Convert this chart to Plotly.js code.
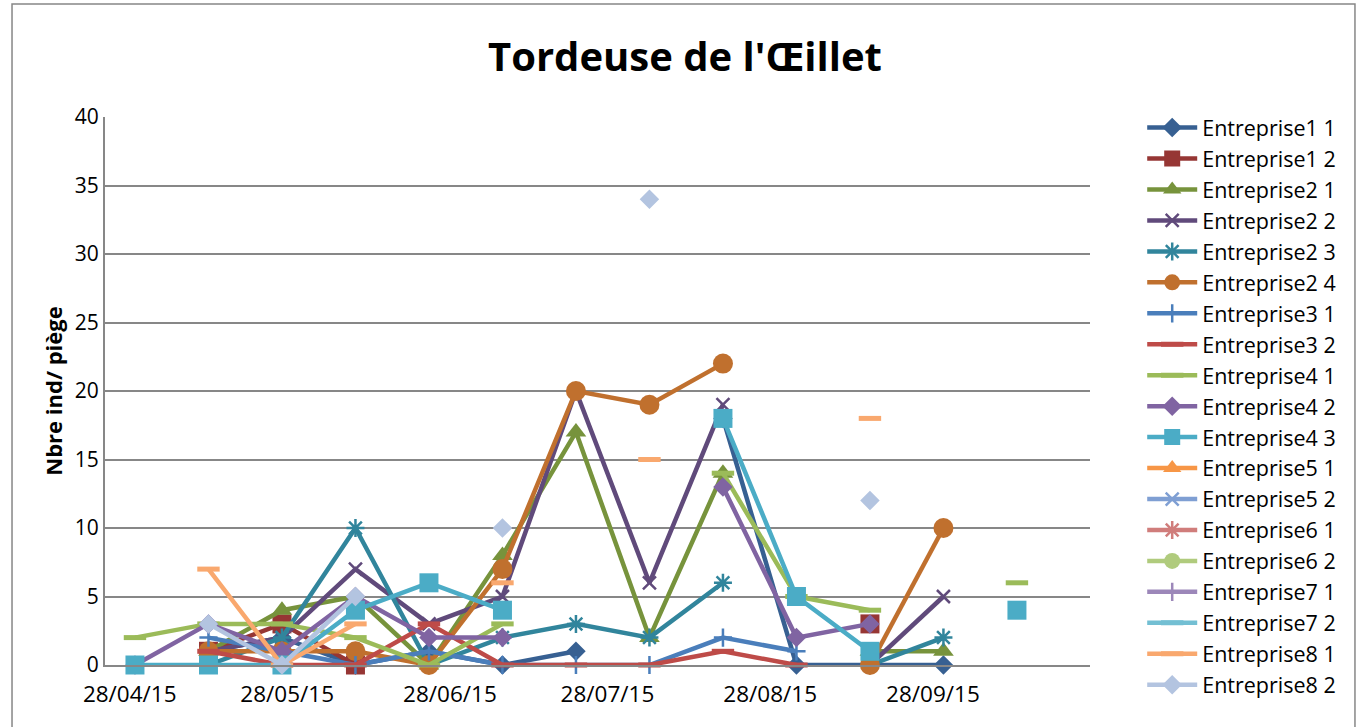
<!DOCTYPE html>
<html>
<head>
<meta charset="utf-8">
<script src="https://cdn.plot.ly/plotly-3.0.1.min.js"></script>
<style>
  html, body { margin: 0; padding: 0; background: #ffffff; }
  #chart { width: 1368px; height: 727px; }
</style>
</head>
<body>
<div id="chart"></div>
<script>
// ---- data ----
const n = null;
const dates = ['2015-04-29','2015-05-13','2015-05-27','2015-06-10','2015-06-24','2015-07-08',
               '2015-07-22','2015-08-05','2015-08-19','2015-09-02','2015-09-16','2015-09-30','2015-10-14'];
const tickDates = ['2015-04-28','2015-05-28','2015-06-28','2015-07-28','2015-08-28','2015-09-28'];

const seriesNames = ['Entreprise1 1','Entreprise1 2','Entreprise2 1','Entreprise2 2','Entreprise2 3','Entreprise2 4',
  'Entreprise3 1','Entreprise3 2','Entreprise4 1','Entreprise4 2','Entreprise4 3','Entreprise5 1','Entreprise5 2',
  'Entreprise6 1','Entreprise6 2','Entreprise7 1','Entreprise7 2','Entreprise8 1','Entreprise8 2'];

const e1_1 = [n, 1, 2, 0, 1, 0, 1, n, 18, 0, 0, 0, n];
const e1_2 = [n, 1, 3, 0, n, n, n, n, n, n, 3, n, n];
const e2_1 = [n, 1, 4, 5, 0, 8, 17, 2, 14, n, 1, 1, n];
const e2_2 = [n, 1, 2, 7, 3, 5, 20, 6, 19, n, 0, 5, n];
const e2_3 = [n, 0, 2, 10, 0, 2, 3, 2, 6, n, 0, 2, n];
const e2_4 = [n, 1, 1, 1, 0, 7, 20, 19, 22, n, 0, 10, n];
const e3_1 = [n, 2, 1, 0, 1, 0, 0, 0, 2, 1, n, n, n];
const e3_2 = [n, 1, 0, 0, 3, 0, 0, 0, 1, 0, n, n, n];
const e4_1 = [2, 3, 3, 2, 0, 3, n, n, 14, 5, 4, n, 6];
const e4_2 = [0, 3, 1, 5, 2, 2, n, n, 13, 2, 3, n, n];
const e4_3 = [0, 0, 0, 4, 6, 4, n, n, 18, 5, 1, n, 4];
const e5_1 = [n, n, n, n, n, n, n, n, n, n, n, n, n];
const e5_2 = [n, n, n, n, n, n, n, n, n, n, n, n, n];
const e6_1 = [n, n, n, n, n, n, n, n, n, n, n, n, n];
const e6_2 = [n, n, n, n, n, n, n, n, n, n, n, n, n];
const e7_1 = [n, n, n, n, n, n, n, n, n, n, n, n, n];
const e7_2 = [n, n, n, n, n, n, n, n, n, n, n, n, n];
const e8_1 = [n, 7, 0, 3, n, 6, n, 15, n, n, 18, n, n];
const e8_2 = [n, 3, 0, 5, n, 10, n, 34, n, n, 12, n, n];

const values = [e1_1, e1_2, e2_1, e2_2, e2_3, e2_4, e3_1, e3_2, e4_1, e4_2, e4_3,
                e5_1, e5_2, e6_1, e6_2, e7_1, e7_2, e8_1, e8_2];

// ---- styles ----
const colors = ['#376092','#963634','#77933C','#604A7B','#31859C','#C0702E',
                '#4A7EBB','#BE4B48','#9BBB59','#8064A2','#4BACC6','#F79646',
                '#7F9FD3','#D07D7B','#B0CB7D','#9C87B9','#73BFD3','#F9A86E','#B3C4E0'];
const markerCycle = [
  {symbol:'diamond', size:15, lw:0},
  {symbol:'square', size:19, lw:0},
  {symbol:'triangle-up', size:18, lw:0},
  {symbol:'x-thin-open', size:13, lw:2.5},
  {symbol:'asterisk-open', size:15, lw:2.5},
  {symbol:'circle', size:20, lw:0},
  {symbol:'cross-thin-open', size:13, lw:2.5},
  {symbol:'line-ew-open', size:16, lw:5},
  {symbol:'line-ew-open', size:16, lw:5}
];

const traces = seriesNames.map((name, i) => {
  const m = markerCycle[i % markerCycle.length];
  return {
    type: 'scatter',
    mode: 'lines+markers',
    name: name,
    x: dates,
    y: values[i],
    cliponaxis: false,
    connectgaps: false,
    line: {color: colors[i], width: 4.5},
    marker: {symbol: m.symbol, size: m.size, color: colors[i],
             line: {color: colors[i], width: m.lw}}
  };
});

const font = 'Open Sans, Liberation Sans, sans-serif';
const layout = {
  width: 1368, height: 727,
  margin: {l: 105, r: 278, t: 117, b: 62},
  paper_bgcolor: '#ffffff', plot_bgcolor: '#ffffff',
  showlegend: true,
  title: {text: "Tordeuse de l'Œillet", font: {family: font, size: 40, color: '#000000', weight: 'bold'},
          xref: 'container', yref: 'container', x: 0.5007, y: 0.921, xanchor: 'center', yanchor: 'middle'},
  xaxis: {
    type: 'date',
    range: ['2015-04-23 07:00', '2015-10-27 22:00'],
    tickvals: tickDates, tickformat: '%d/%m/%y',
    showgrid: false, zeroline: false,
    showline: true, linecolor: '#878787', linewidth: 2,
    ticks: 'outside', ticklen: 8, tickcolor: 'rgba(0,0,0,0)', tickwidth: 1,
    tickfont: {family: font, size: 22.5, color: '#000000'}
  },
  yaxis: {
    range: [0, 40], dtick: 5, tick0: 0,
    showgrid: true, gridcolor: '#878787', gridwidth: 2,
    zeroline: false,
    showline: true, linecolor: '#878787', linewidth: 2,
    ticks: '',
    tickfont: {family: font, size: 21, color: '#000000'},
    title: {text: 'Nbre ind/ piège', standoff: 6, font: {family: font, size: 22, color: '#000000', weight: 'bold'}}
  },
  legend: {
    x: 1.053, y: 1.018, xanchor: 'left', yanchor: 'top',
    font: {family: font, size: 21.5, color: '#000000'},
    itemwidth: 50, bgcolor: 'rgba(0,0,0,0)', borderwidth: 0,
    tracegroupgap: 0, maxheight: 650
  },
  shapes: [{
    type: 'rect', xref: 'paper', yref: 'paper',
    x0: -0.0944, x1: 1.269, y0: -0.137, y1: 1.206,
    line: {color: '#878787', width: 1.5}, fillcolor: 'rgba(0,0,0,0)', layer: 'below'
  }]
};

Plotly.newPlot('chart', traces, layout, {displayModeBar: false, staticPlot: true});
</script>
</body>
</html>
